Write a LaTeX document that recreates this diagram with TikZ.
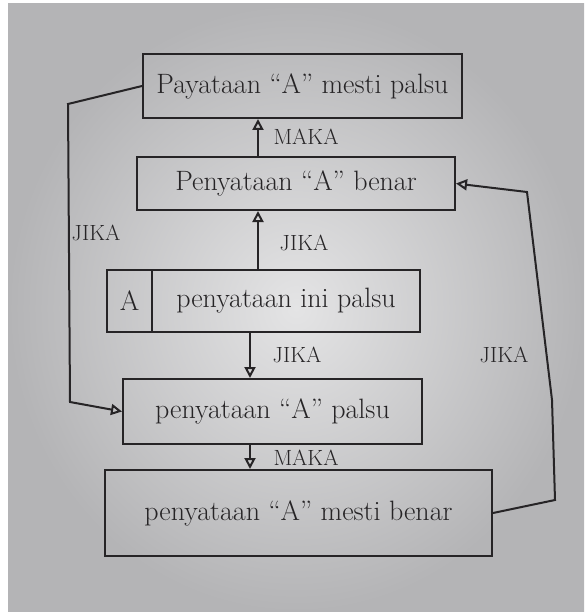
\documentclass[tikz,border=0pt]{standalone}
\usepackage{tikz}
\usetikzlibrary{arrows.meta}
\definecolor{ink}{RGB}{38,36,38}
\definecolor{paperlight}{RGB}{228,228,229}
\definecolor{paperdark}{RGB}{180,180,182}

\begin{document}
\begin{tikzpicture}[x = 1pt, y = -1pt,
    box/.style = {draw = ink, line width = 2pt, inner sep = 0pt,
      font = \fontsize{28}{32}\selectfont, text = ink},
    tag/.style = {font = \fontsize{22}{24}\selectfont, text = ink},
    arr/.style = {draw = ink, line width = 2pt,
      -{Triangle[open, length = 11pt, width = 11pt, line width = 2pt]}}]
    \useasboundingbox (0, 0) rectangle (584, 612);
    \fill [white] (0, 0) rectangle (584, 612);
    \shade [inner color = paperlight, outer color = paperdark] (8, 4) rectangle (584, 612);
    \node [box, minimum width = 319pt, minimum height = 64pt] (pasti) at (302.5, 86) {Payataan \textquotedblleft A\textquotedblright\ mesti palsu};
    \node [box, minimum width = 318pt, minimum height = 53pt] (benar) at (296, 183.5) {Penyataan \textquotedblleft A\textquotedblright\ benar};
    \node [box, minimum width = 45pt, minimum height = 62pt] (nama) at (129.5, 301) {A};
    \node [box, minimum width = 268pt, minimum height = 62pt] (ini) at (286, 301) {penyataan ini palsu};
    \node [box, minimum width = 299pt, minimum height = 65pt] (palsu) at (272.5, 411.5) {penyataan \textquotedblleft A\textquotedblright\ palsu};
    \node [box, minimum width = 387pt, minimum height = 86pt] (mesti) at (298.5, 513) {penyataan \textquotedblleft A\textquotedblright\ mesti benar};
    \coordinate (colA) at (258, 0);
    \coordinate (colB) at (250, 0);
    \coordinate (lt) at (68, 104);
    \coordinate (lb) at (70, 402);
    \coordinate (rt) at (527, 192);
    \coordinate (rm) at (552, 400);
    \coordinate (rb) at (555, 500);
    \draw [arr] (ini.north -| colA) -- (benar.south -| colA);
    \draw [arr] (benar.north -| colA) -- (pasti.south -| colA);
    \draw [arr] (ini.south -| colB) -- (palsu.north -| colB);
    \draw [arr] (palsu.south -| colB) -- (mesti.north -| colB);
    \draw [arr] (pasti.west) -- (lt) -- (lb) -- (palsu.west);
    \draw [arr] (mesti.east) -- (rb) -- (rm) -- (rt) -- (benar.east);
    \node [tag] (maka1) at (306, 137) {MAKA};
    \node [tag] (jika1) at (304, 243) {JIKA};
    \node [tag] (jika2) at (297, 355) {JIKA};
    \node [tag] (maka2) at (306, 458) {MAKA};
    \node [tag] (jika3) at (96, 233) {JIKA};
    \node [tag] (jika4) at (504, 355) {JIKA};
  \end{tikzpicture}
\end{document}
